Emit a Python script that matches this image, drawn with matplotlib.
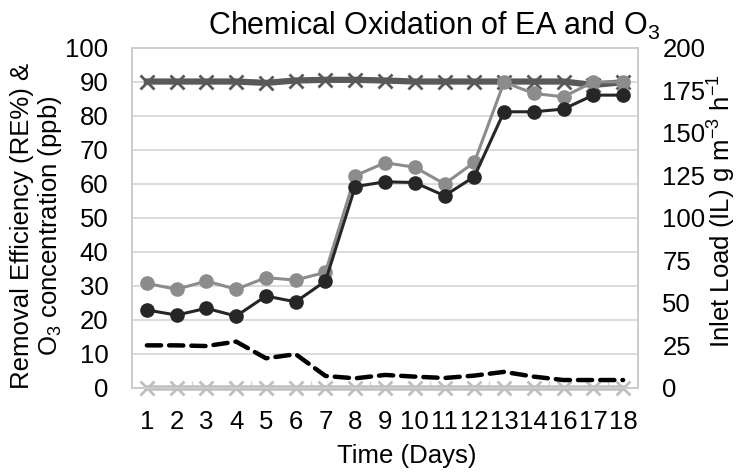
import numpy as np
import matplotlib
matplotlib.use('Agg')
import matplotlib.pyplot as plt
from matplotlib.ticker import FixedLocator

plt.rcParams['font.family'] = ['Liberation Sans', 'DejaVu Sans']
plt.rcParams['mathtext.fontset'] = 'custom'
plt.rcParams['mathtext.rm'] = 'Liberation Sans'
plt.rcParams['mathtext.default'] = 'regular'

# days (day 15 is missing in the source data)
days = ['1', '2', '3', '4', '5', '6', '7', '8', '9', '10', '11', '12', '13', '14', '16', '17', '18']

# left axis series
inlet_conc = [90.0, 90.0, 90.0, 90.0, 89.6, 90.3, 90.5, 90.5, 90.3, 90.0, 90.0, 90.0, 90.0, 90.0, 90.0, 89.0, 89.8]
re_gray = [30.6, 28.9, 31.3, 28.9, 32.3, 31.6, 33.9, 62.3, 66.1, 64.8, 59.9, 66.2, 89.8, 86.5, 85.5, 89.9, 89.9]
re_dark = [22.8, 21.3, 23.3, 21.0, 26.9, 25.2, 31.3, 59.1, 60.5, 60.3, 56.4, 62.0, 81.1, 81.1, 81.9, 86.0, 86.0]
o3_conc = [0] * 17

# right axis series (inlet load)
inlet_load = [24.8, 24.8, 24.4, 27.0, 17.2, 19.6, 6.8, 5.4, 7.4, 6.4, 5.6, 7.0, 9.2, 6.4, 4.4, 4.4, 4.4]

fs = 18.5
x = np.arange(len(days))

fig = plt.figure(figsize=(7.39, 4.72), dpi=100)
ax = fig.add_axes([0.1786, 0.179, 0.6847, 0.7203])
ax2 = ax.twinx()

grid_c = '#d9d9d9'
for y in range(10, 101, 10):
    ax.axhline(y, color=grid_c, lw=1.3, zorder=0)

ax.plot(x, o3_conc, color='#bfbfbf', lw=4, marker='x', ms=10, mew=2,
        clip_on=False, zorder=2)
ax.plot(x, inlet_conc, color='#595959', lw=4.5, marker='x', ms=10, mew=2,
        clip_on=False, zorder=3)
ax.plot(x, re_gray, color='#8c8c8c', lw=2.2, marker='o', ms=9.5,
        clip_on=False, zorder=4)
ax.plot(x, re_dark, color='#262626', lw=2.2, marker='o', ms=9.5,
        clip_on=False, zorder=5)
ax2.plot(x, inlet_load, color='black', lw=3.2, linestyle=(0, (3.2, 1.8)),
         dash_capstyle='round', zorder=3)

ax.set_xlim(-0.5, len(days) - 0.5)
ax.set_ylim(0, 100)
ax2.set_ylim(0, 200)
ax.set_yticks(range(0, 101, 10))
ax2.set_yticks(range(0, 201, 25))
ax.set_xticks(x)
ax.set_xticklabels(days)
ax.xaxis.set_minor_locator(FixedLocator(np.arange(1.5, len(days) - 1, 2)))

ax.tick_params(axis='x', which='major', length=0, pad=16.5, labelsize=fs)
ax.tick_params(axis='x', which='minor', length=5, direction='in', color='#d0d0d0', width=1)
ax.tick_params(axis='y', length=0, pad=17, labelsize=fs)
ax2.tick_params(axis='y', length=0, pad=17.5, labelsize=fs)

for a in (ax, ax2):
    for s in a.spines.values():
        s.set_color('#cccccc')
        s.set_linewidth(1.3)

fig.text(208 / 739, 1 - 35 / 472, 'Chemical Oxidation of EA and O$_3$',
         fontsize=22, ha='left', va='baseline')
fig.text(407 / 739, 1 - 456 / 472, 'Time (Days)', fontsize=fs,
         ha='center', va='center')
fig.text(37 / 739, 1 - 226 / 472,
         'Removal Efficiency (RE%) &\nO$_3$ concentration (ppb)',
         fontsize=fs, rotation=90, ha='center', va='center',
         multialignment='center', linespacing=1.05)
fig.text(738 / 739, 1 - 211 / 472, 'Inlet Load (IL) g m$^{-3}$ h$^{-1}$',
         fontsize=fs, rotation=90, ha='right', va='center')

fig.savefig('out.png', dpi=100)
